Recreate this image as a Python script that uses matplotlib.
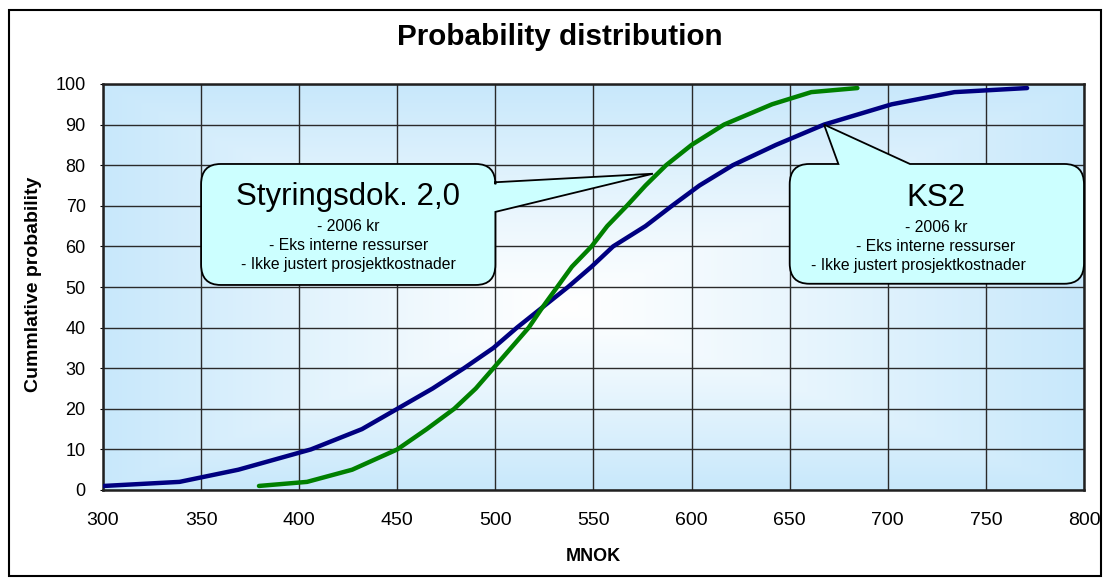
import matplotlib
matplotlib.use('Agg')
import matplotlib.pyplot as plt
import numpy as np
from matplotlib.path import Path
from matplotlib.patches import PathPatch, Rectangle

# ---- data ----
probability = [1, 2, 5, 10, 15, 20, 25, 30, 35, 40, 45, 50, 55, 60, 65, 70,
               75, 80, 85, 90, 95, 98, 99]
ks2_mnok = [300.5, 339, 369, 406, 432, 450, 468, 484, 499, 511, 524, 537,
            549, 560, 576.5, 590, 604, 621, 643, 667.5, 702, 734, 771]
styring_mnok = [379.5, 404, 427, 450, 465, 479, 490, 499, 508, 517, 524,
                531.5, 539, 549, 557, 567, 576.5, 587, 600, 616.5, 641, 661,
                684.5]
x_ticks = [300, 350, 400, 450, 500, 550, 600, 650, 700, 750, 800]
y_ticks = [0, 10, 20, 30, 40, 50, 60, 70, 80, 90, 100]

title = "Probability distribution"
x_label = "MNOK"
y_label = "Cummlative probability"
styring_title = "Styringsdok. 2,0"
ks2_title = "KS2"
note_lines = ["- 2006 kr", "- Eks interne ressurser",
              "- Ikke justert prosjektkostnader"]

FONT = ['Liberation Sans', 'DejaVu Sans']
plt.rcParams['font.family'] = FONT

W, H = 1103, 578
fig = plt.figure(figsize=(W / 100, H / 100), dpi=100)
ax = fig.add_axes([103 / W, 1 - 490 / H, 981 / W, 406 / H])

# gradient background (white center, light blue edges)
ny, nx = 200, 400
u = np.linspace(0, 1, nx)
v = np.linspace(0, 1, ny)
U, V = np.meshgrid(u, v)
cu, cv = 0.47, 0.45
du = np.where(U < cu, (cu - U) / cu, (U - cu) / (1 - cu))
dv = np.where(V < cv, (cv - V) / cv, (V - cv) / (1 - cv))
t = np.clip(np.maximum(du, dv), 0, 1) ** 1.1
edge = np.array([200, 232, 251]) / 255.0
white = np.array([1.0, 1.0, 1.0])
img = white[None, None, :] * (1 - t[..., None]) + edge[None, None, :] * t[..., None]
ax.imshow(img, extent=[0, 1, 0, 1], transform=ax.transAxes, origin='lower',
          aspect='auto', zorder=0, interpolation='bilinear')

ax.set_xlim(300, 800)
ax.set_ylim(0, 100)
ax.set_xticks(x_ticks)
ax.set_yticks(y_ticks)
ax.set_axisbelow(True)
ax.grid(True, color='#2a2a2a', linewidth=1.0)

for s in ax.spines.values():
    s.set_linewidth(1.8)
    s.set_color('#202020')

ax.tick_params(axis='x', length=0, pad=16, labelsize=14)
ax.tick_params(axis='y', length=2.5, pad=10, labelsize=13)

ax.plot(ks2_mnok, probability, color='#000080', linewidth=3.2,
        solid_joinstyle='round', solid_capstyle='round', zorder=3)
ax.plot(styring_mnok, probability, color='#008000', linewidth=3.2,
        solid_joinstyle='round', solid_capstyle='round', zorder=3)

# labels
fig.text(560 / W, 1 - 37 / H, title, ha='center', va='center',
         fontsize=21.3, fontweight='bold')
ax.text(0.5, -0.165, x_label, transform=ax.transAxes, ha='center',
        va='center', fontsize=13, fontweight='bold')
ax.text(-0.0705, 0.507, y_label, transform=ax.transAxes, ha='center',
        va='center', rotation=90, fontsize=14, fontweight='bold')

# callouts
M, L, C, Z = Path.MOVETO, Path.LINETO, Path.CURVE3, Path.CLOSEPOLY


def callout_right(x0, x1, y0, y1, rx, ry, ba, bb, tip):
    verts = [(x0 + rx, y0), (x1 - rx, y0), (x1, y0), (x1, y0 + ry),
             (x1, ba), tip, (x1, bb), (x1, y1 - ry), (x1, y1), (x1 - rx, y1),
             (x0 + rx, y1), (x0, y1), (x0, y1 - ry), (x0, y0 + ry),
             (x0, y0), (x0 + rx, y0), (x0 + rx, y0)]
    codes = [M, L, C, C, L, L, L, L, C, C, L, C, C, L, C, C, Z]
    return Path(verts, codes)


def callout_top(x0, x1, y0, y1, rx, ry, ba, bb, tip):
    verts = [(x0 + rx, y0), (x1 - rx, y0), (x1, y0), (x1, y0 + ry),
             (x1, y1 - ry), (x1, y1), (x1 - rx, y1), (bb, y1), tip, (ba, y1),
             (x0 + rx, y1), (x0, y1), (x0, y1 - ry), (x0, y0 + ry),
             (x0, y0), (x0 + rx, y0), (x0 + rx, y0)]
    codes = [M, L, C, C, L, C, C, L, L, L, L, C, C, L, C, C, Z]
    return Path(verts, codes)


fill = '#CCFFFF'
p1 = callout_right(350, 500, 50.5, 80.3, 10, 5, 68.5, 75.8, (580.3, 77.9))
ax.add_patch(PathPatch(p1, facecolor=fill, edgecolor='black', linewidth=1.3,
                       zorder=5, clip_on=False))
tip2 = (ks2_mnok[probability.index(90)], 90)
p2 = callout_top(650, 800, 50.8, 80.3, 10, 5, 674.8, 711.3, tip2)
ax.add_patch(PathPatch(p2, facecolor=fill, edgecolor='black', linewidth=1.3,
                       zorder=5, clip_on=False))

ax.text(425, 72.2, styring_title, ha='center', va='center', fontsize=22.5, zorder=6)
ax.text(724.5, 72.0, ks2_title, ha='center', va='center', fontsize=22.5, zorder=6)
for yy, line in zip([64.9, 60.3, 55.6], note_lines):
    ax.text(425, yy, line, ha='center', va='center', fontsize=11.3, zorder=6)
for xx, yy, line in zip([724.5, 724.5, 715.4], [64.7, 59.9, 55.3], note_lines):
    ax.text(xx, yy, line, ha='center', va='center', fontsize=11.3, zorder=6)

# outer frame
fig.patches.append(Rectangle((9 / W, 1 - 576 / H), 1092 / W, 566 / H,
                             transform=fig.transFigure, fill=False,
                             edgecolor='black', linewidth=1.5))

fig.savefig('out.png', dpi=100)
